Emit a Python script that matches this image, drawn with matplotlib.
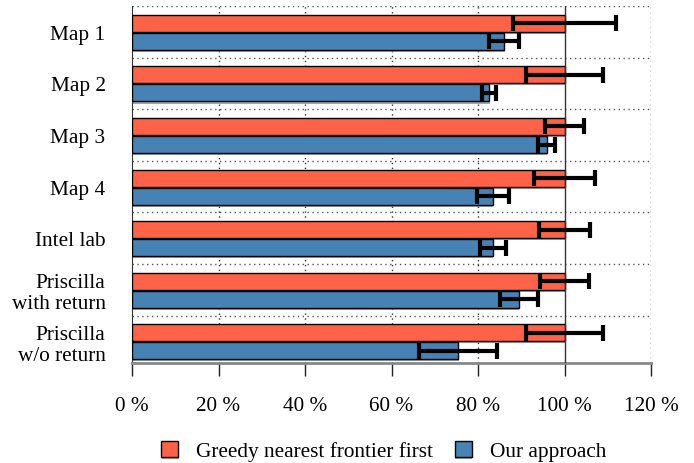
import matplotlib
matplotlib.use("Agg")
import matplotlib.pyplot as plt
import matplotlib.patheffects as pe
import numpy as np

plt.rcParams['font.family'] = ['Liberation Serif', 'DejaVu Serif']
plt.rcParams['font.size'] = 15.3

maps = ["Map 1", "Map 2", "Map 3", "Map 4", "Intel lab",
        "Priscilla\nwith return", "Priscilla\nw/o return"]

# greedy baseline is normalised to 100 %
greedy = [100, 100, 100, 100, 100, 100, 100]
greedy_err = [11.9, 8.8, 4.6, 7.1, 6.0, 5.7, 9.0]

ours = [86.0, 82.5, 95.9, 83.4, 83.4, 89.4, 75.4]
ours_err = [3.4, 1.6, 2.0, 3.7, 3.0, 4.4, 9.0]

xticks = [0, 20, 40, 60, 80, 100, 120]

red = "#ff6347"
blue = "#4682b4"

fig = plt.figure(figsize=(6.94, 4.64), dpi=100)
ax = fig.add_axes([132/694, 1 - 364/464, (651 - 132)/694, (364 - 7)/464])

y = np.arange(len(maps))
h = 0.33
shadow = [pe.SimplePatchShadow(offset=(0.5, -1.5), shadow_rgbFace='gray', alpha=0.7), pe.Normal()]
ekw = dict(ecolor='black', elinewidth=3, capsize=6, capthick=3, zorder=5)

ax.barh(y - 0.165, greedy, height=h, color=red, edgecolor='black', linewidth=1,
        xerr=greedy_err, error_kw=ekw,
        label="Greedy nearest frontier first", path_effects=shadow, zorder=3)
ax.barh(y + 0.185, ours, height=h, color=blue, edgecolor='black', linewidth=1,
        xerr=ours_err, error_kw=ekw,
        label="Our approach", path_effects=shadow, zorder=3)

# grid
for yy in np.arange(-0.5, len(maps) - 1, 1.0):
    ax.axhline(yy, color='#555555', linestyle=(0, (1, 2.5)), linewidth=1, zorder=1)
for xx in [20, 40, 60, 80, 120]:
    ax.axvline(xx, color='#333333', linestyle=(0, (1, 2.5)), linewidth=1, zorder=1)
ax.axvline(100, color='#333333', linewidth=1, zorder=4)

ax.set_xlim(0, 120)
ax.set_ylim(6.42, -0.5)
ax.set_xticks(xticks)
ax.set_xticklabels(["%d %%" % v for v in xticks])
ax.set_yticks(y)
ax.set_yticklabels(maps, linespacing=1.15)
ax.tick_params(axis='y', length=0, pad=19)
ax.tick_params(axis='x', direction='out', length=9, width=1, pad=15, color='#222222')

for s in ['top', 'right']:
    ax.spines[s].set_visible(False)
ax.spines['left'].set_color('#333333')
ax.spines['bottom'].set_color('#888888')
ax.spines['bottom'].set_linewidth(2)

handles, labels = ax.get_legend_handles_labels()
fig.legend(handles, labels, loc='center', bbox_to_anchor=(0.553, 1 - 452/464), ncol=2,
           frameon=False, handlelength=0.8, handleheight=0.8, handletextpad=0.85,
           columnspacing=1.0)

fig.savefig("out.png", dpi=100)
